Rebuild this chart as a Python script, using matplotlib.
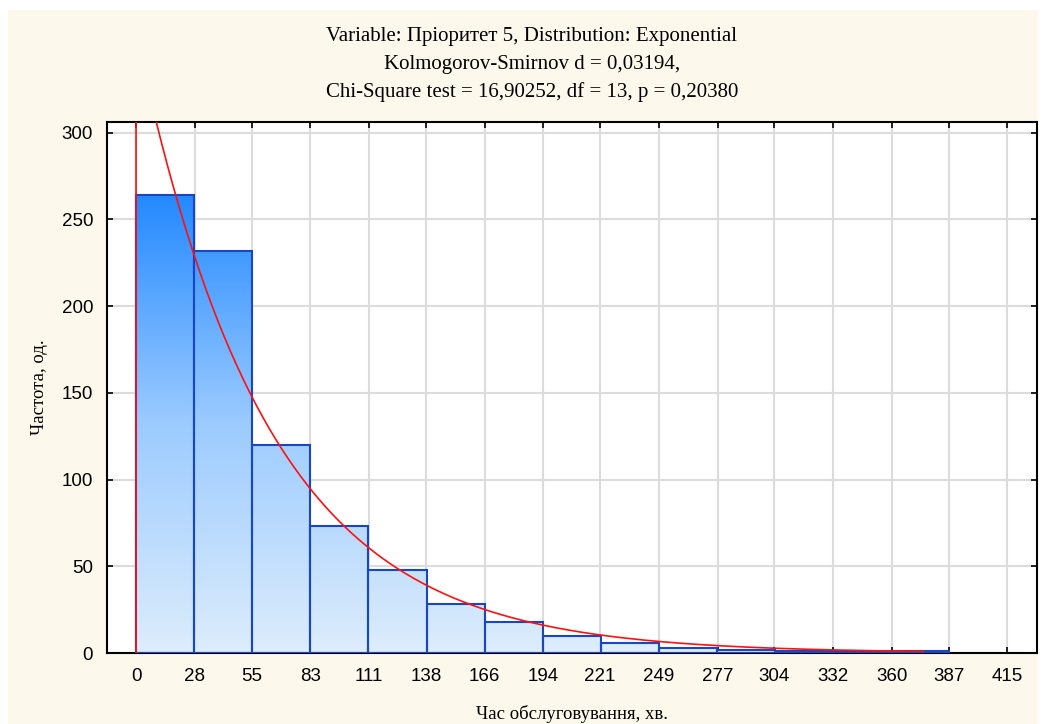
import numpy as np
import matplotlib
matplotlib.use("Agg")
import matplotlib.pyplot as plt
from matplotlib.colors import LinearSegmentedColormap
from matplotlib.patches import Rectangle

# Histogram data
bin_width = 415 / 15
counts = [264, 232, 120, 73, 48, 28, 18, 10, 6, 3, 2, 1, 1, 1]
tick_values = [0, 28, 55, 83, 111, 138, 166, 194, 221, 249, 277, 304, 332, 360, 387, 415]
y_ticks = [0, 50, 100, 150, 200, 250, 300]

# Fitted exponential distribution
lam = 0.016
x_max_fit = 375

title_lines = ["Variable: Пріоритет 5, Distribution: Exponential",
               "Kolmogorov-Smirnov d = 0,03194,",
               "Chi-Square test = 16,90252, df = 13, p = 0,20380"]

fig = plt.figure(figsize=(10.43, 7.24), dpi=100)
fig.patch.set_facecolor("white")
# cream panel behind the chart
bg = Rectangle((8 / 1043, 0), (1038 - 8) / 1043, 1 - 10 / 724,
               transform=fig.transFigure, facecolor="#FDF8EC",
               edgecolor="none", zorder=-10)
fig.add_artist(bg)

ax = fig.add_axes([107 / 1043, 1 - 653 / 724, (1036.5 - 107) / 1043, (653 - 121.7) / 724])
ax.set_zorder(1)
ax.set_facecolor("white")

edges = np.arange(len(counts)) * bin_width
cmap = LinearSegmentedColormap.from_list("bl", ["#DDEDFC", "#9CCBFF", "#2389FF"])
grad = np.linspace(0, 1, 256).reshape(-1, 1)

bars = ax.bar(edges, counts, width=bin_width, align="edge", facecolor="none",
              edgecolor="#1747C4", linewidth=1.5, zorder=3)
for b in bars:
    im = ax.imshow(grad, cmap=cmap, origin="lower", aspect="auto",
                   extent=[-20, 440, 0, 265], zorder=2)
    im.set_clip_path(b)

# fitted curve: N * bin width * pdf
N = sum(counts)
xf = np.linspace(0, x_max_fit, 500)
yf = N * bin_width * lam * np.exp(-lam * xf)
ax.plot(np.r_[0, xf], np.r_[0, yf], color="#FF1010", linewidth=1.2, zorder=4)

ax.set_xlim(-bin_width / 2, 415 + bin_width / 2)
ax.set_ylim(0, 306.4)
ax.set_xticks(tick_values)
ax.set_xticklabels([str(v) for v in tick_values])
ax.set_yticks(y_ticks)
ax.grid(True, color="#DCDCDC", linewidth=1.5, zorder=0)
ax.set_axisbelow(True)
ax.tick_params(direction="in", length=4, width=1.2, top=True, right=True,
               labelsize=13.5)
ax.tick_params(axis="x", pad=11)
ax.tick_params(axis="y", pad=10)
for lbl in ax.get_xticklabels() + ax.get_yticklabels():
    lbl.set_family("Liberation Sans")
for s in ax.spines.values():
    s.set_linewidth(1.5)
    s.set_color("black")

ax.set_xlabel("Час обслуговування, хв.", family="Liberation Serif", fontsize=13.5, labelpad=14)
ax.set_ylabel("Частота, од.", family="Liberation Serif", fontsize=13.5, labelpad=10)

for i, line in enumerate(title_lines):
    fig.text(532 / 1043, 1 - (37 + 27.5 * i) / 724, line, ha="center", va="center",
             family="Liberation Serif", fontsize=15)

fig.savefig("out.png", dpi=100, facecolor=fig.get_facecolor())
